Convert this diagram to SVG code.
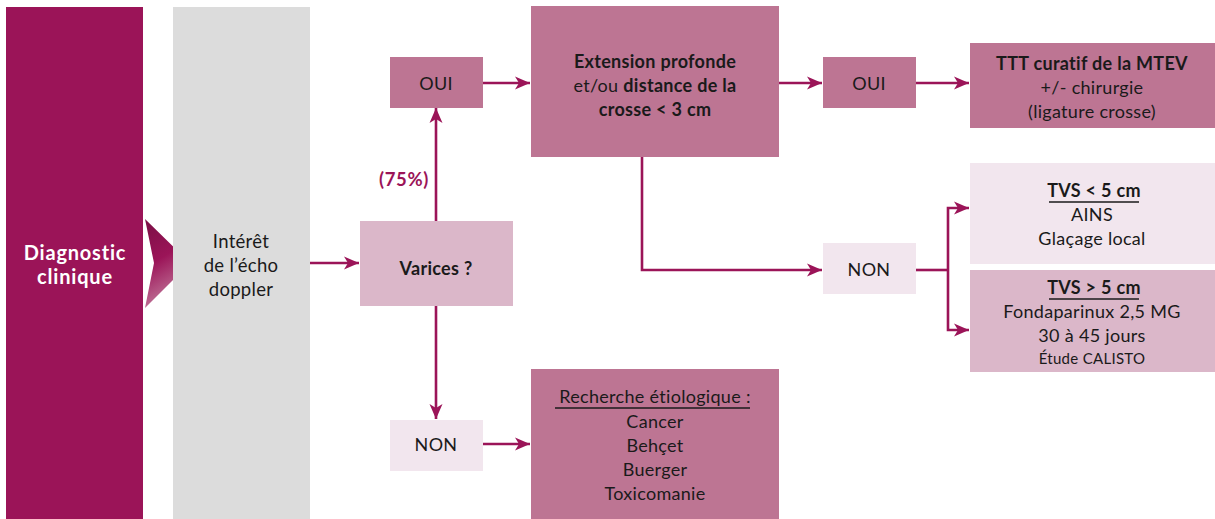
<svg xmlns="http://www.w3.org/2000/svg" width="1215" height="519" viewBox="0 0 1215 519">
<style>
text{font-family:Lato,"Open Sans","Liberation Sans",sans-serif;font-size:18px;fill:#1a1a1a;text-anchor:middle;letter-spacing:0.3px}
.b{font-weight:bold}
.w{fill:#ffffff;font-weight:bold;font-size:20px;letter-spacing:0.8px}
.g{font-size:18.5px}
.m{fill:#9b1458;font-weight:bold;font-size:18.5px;letter-spacing:0.6px}
.s{font-size:15px}
.dk{fill:#bd7593}
.md{fill:#dbb7c9}
.lt{fill:#f2e6ee}
.c{fill:none;stroke:#9b1458;stroke-width:2.6}
.ul{stroke:#1a1a1a;stroke-width:1.6}
</style>
<defs>
<marker id="ah" markerUnits="userSpaceOnUse" markerWidth="16" markerHeight="14" refX="15" refY="7" orient="auto">
<path d="M0,0.5 L15,7 L0,13.5 L4,7 Z" fill="#9b1458"/>
</marker>
<linearGradient id="chev" x1="0" y1="0" x2="0.3" y2="1">
<stop offset="0" stop-color="#7a0f45"/>
<stop offset="0.5" stop-color="#9b1458"/>
<stop offset="1" stop-color="#c27a9c"/>
</linearGradient>
</defs>

<g id="diagnostic">
<rect x="6" y="7" width="137" height="512" fill="#9b1458"/>
<text class="w" x="75" y="260">Diagnostic</text>
<text class="w" x="75" y="284">clinique</text>
</g>
<g id="chevron">
<path d="M145,219 L190,263 L145,308 L154,263 Z" fill="url(#chev)"/>
</g>
<g id="echo">
<rect x="173" y="7" width="137" height="512" fill="#dcdcdc"/>
<text class="g" x="241" y="248">Intérêt</text>
<text class="g" x="241" y="272">de l’écho</text>
<text class="g" x="241" y="296">doppler</text>
</g>
<g id="varices">
<rect class="md" x="360" y="221" width="153" height="85"/>
<text class="b" x="436" y="275">Varices ?</text>
</g>
<g id="oui1">
<rect class="dk" x="390" y="57" width="93" height="51"/>
<text x="436" y="90">OUI</text>
</g>
<g id="label75">
<text class="m" x="404" y="186">(75%)</text>
</g>
<g id="extension">
<rect class="dk" x="531" y="6" width="248" height="151"/>
<text class="b" x="655" y="68">Extension profonde</text>
<text x="655" y="92">et/ou <tspan class="b">distance de la</tspan></text>
<text class="b" x="655" y="116">crosse &lt; 3 cm</text>
</g>
<g id="oui2">
<rect class="dk" x="823" y="57" width="93" height="51"/>
<text x="869" y="90">OUI</text>
</g>
<g id="ttt">
<rect class="dk" x="970" y="43" width="245" height="85"/>
<text class="b" x="1092" y="70">TTT curatif de la MTEV</text>
<text x="1092" y="94">+/- chirurgie</text>
<text x="1092" y="118">(ligature crosse)</text>
</g>
<g id="non2">
<rect class="lt" x="823" y="243" width="93" height="51"/>
<text x="869" y="276">NON</text>
</g>
<g id="tvs-lt5">
<rect class="lt" x="970" y="163" width="245" height="101"/>
<text class="b" x="1094" y="197">TVS &lt; 5 cm</text>
<line class="ul" x1="1049" y1="202" x2="1139" y2="202"/>
<text x="1092" y="221">AINS</text>
<text x="1092" y="245">Glaçage local</text>
</g>
<g id="tvs-gt5">
<rect class="md" x="970" y="270" width="245" height="102"/>
<text class="b" x="1094" y="294">TVS &gt; 5 cm</text>
<line class="ul" x1="1049" y1="299" x2="1139" y2="299"/>
<text x="1092" y="318">Fondaparinux 2,5 MG</text>
<text x="1092" y="342">30 à 45 jours</text>
<text class="s" x="1092" y="364">Étude CALISTO</text>
</g>
<g id="non1">
<rect class="lt" x="390" y="420" width="93" height="51"/>
<text x="436" y="451">NON</text>
</g>
<g id="recherche">
<rect class="dk" x="531" y="369" width="248" height="150"/>
<text x="655" y="403">Recherche étiologique :</text>
<line class="ul" x1="555" y1="408" x2="750" y2="408"/>
<text x="655" y="428">Cancer</text>
<text x="655" y="452">Behçet</text>
<text x="655" y="476">Buerger</text>
<text x="655" y="500">Toxicomanie</text>
</g>

<g id="connectors">
<path class="c" d="M310,263 H359" marker-end="url(#ah)"/>
<path class="c" d="M436,221 V108" marker-end="url(#ah)"/>
<path class="c" d="M483,83 H530" marker-end="url(#ah)"/>
<path class="c" d="M779,83 H822" marker-end="url(#ah)"/>
<path class="c" d="M916,83 H969" marker-end="url(#ah)"/>
<path class="c" d="M642,157 V270 H822" marker-end="url(#ah)"/>
<path class="c" d="M916,270 H948"/>
<path class="c" d="M948,270 V208 H969" marker-end="url(#ah)"/>
<path class="c" d="M948,270 V330 H969" marker-end="url(#ah)"/>
<path class="c" d="M436,306 V419" marker-end="url(#ah)"/>
<path class="c" d="M483,444 H530" marker-end="url(#ah)"/>
</g>
</svg>
